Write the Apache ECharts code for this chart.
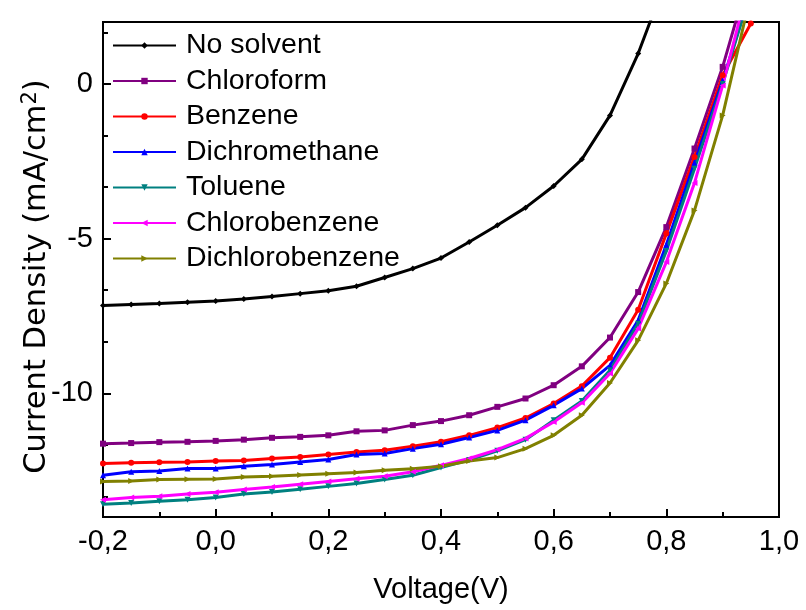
<!DOCTYPE html>
<html>
<head>
<meta charset="utf-8">
<script src="https://cdn.jsdelivr.net/npm/echarts@6/dist/echarts.min.js"></script>
<style>
  html, body { margin: 0; padding: 0; background: #fff; }
  #chart { width: 806px; height: 610px; }
</style>
</head>
<body>
<div id="chart"></div>
<script>
  const voltage = [-0.2, -0.15, -0.1, -0.05, 0, 0.05, 0.1, 0.15, 0.2, 0.25, 0.3, 0.35,
    0.4, 0.45, 0.5, 0.55, 0.6, 0.65, 0.7, 0.75, 0.8, 0.85, 0.9, 0.95];

  const noSolvent = [-7.16, -7.13, -7.10, -7.06, -7.02, -6.95, -6.87, -6.78, -6.69, -6.54, -6.26, -5.97,
    -5.63, -5.11, -4.57, -4.00, -3.30, -2.44, -1.02, 0.98, 3.4];
  const chloroform = [-11.63, -11.61, -11.58, -11.57, -11.54, -11.50, -11.44, -11.41, -11.36, -11.23, -11.20, -11.03,
    -10.90, -10.71, -10.44, -10.17, -9.74, -9.13, -8.20, -6.73, -4.63, -2.09, 0.55, 3.7];
  const benzene = [-12.27, -12.25, -12.23, -12.22, -12.19, -12.17, -12.11, -12.06, -11.98, -11.90, -11.84, -11.71,
    -11.57, -11.36, -11.11, -10.80, -10.33, -9.77, -8.85, -7.30, -4.84, -2.36, 0.28, 1.95];
  const dichromethane = [-12.65, -12.54, -12.51, -12.43, -12.43, -12.36, -12.30, -12.22, -12.14, -11.98, -11.95, -11.79,
    -11.65, -11.43, -11.20, -10.87, -10.39, -9.85, -9.10, -7.64, -5.20, -2.55, 0.10, 3.0];
  const toluene = [-13.59, -13.55, -13.49, -13.44, -13.37, -13.26, -13.19, -13.10, -13.01, -12.92, -12.79, -12.65,
    -12.40, -12.16, -11.86, -11.50, -10.87, -10.25, -9.26, -7.75, -5.40, -2.74, 0.00, 3.0];
  const chlorobenzene = [-13.44, -13.37, -13.33, -13.26, -13.20, -13.11, -13.03, -12.94, -12.85, -12.76, -12.68, -12.54,
    -12.33, -12.11, -11.82, -11.46, -10.93, -10.31, -9.36, -7.91, -5.76, -3.20, -0.05, 3.5];
  const dichlorobenzene = [-12.85, -12.84, -12.79, -12.78, -12.77, -12.71, -12.68, -12.64, -12.60, -12.56, -12.49, -12.44,
    -12.36, -12.19, -12.08, -11.79, -11.36, -10.71, -9.67, -8.29, -6.45, -4.09, -1.02, 2.9];

  const yMajorTicks = [-10, -5, 0];
  const yMinorTicks = [-13.333, -11.667, -8.333, -6.667, -3.333, -1.667, 1.667];

  const seriesDefs = [
    { name: "No solvent", data: noSolvent, color: "#000000", symbol: "diamond", rotate: 0 },
    { name: "Chloroform", data: chloroform, color: "#800080", symbol: "rect", rotate: 0 },
    { name: "Benzene", data: benzene, color: "#ff0000", symbol: "circle", rotate: 0 },
    { name: "Dichromethane", data: dichromethane, color: "#0000ff", symbol: "triangle", rotate: 0 },
    { name: "Toluene", data: toluene, color: "#008080", symbol: "triangle", rotate: 180 },
    { name: "Chlorobenzene", data: chlorobenzene, color: "#ff00ff", symbol: "triangle", rotate: 90 },
    { name: "Dichlorobenzene", data: dichlorobenzene, color: "#808000", symbol: "triangle", rotate: -90 },
  ];

  const font = "'Liberation Sans', Arial, sans-serif";
  const titleFont = "'DejaVu Sans', sans-serif";
  const chart = echarts.init(document.getElementById("chart"));

  const option = {
    backgroundColor: "#ffffff",
    animation: false,
    grid: {
      left: 103,
      right: 27,
      top: 22,
      bottom: 93,
      show: true,
      borderColor: "#000000",
      borderWidth: 2,
    },
    legend: {
      orient: "vertical",
      left: 112,
      top: 31,
      padding: 0,
      itemWidth: 63,
      itemHeight: 8,
      itemGap: 6.5,
      selectedMode: false,
      data: seriesDefs.map((s) => s.name),
      textStyle: {
        fontFamily: font,
        fontSize: 28.5,
        lineHeight: 26,
        color: "#000000",
        padding: [0, 0, 0, 5],
      },
    },
    xAxis: {
      type: "value",
      min: -0.2,
      max: 1.0,
      interval: 0.2,
      name: "Voltage(V)",
      nameLocation: "middle",
      nameGap: 58,
      nameMoveOverlap: false,
      nameTextStyle: { fontFamily: font, fontSize: 29, color: "#000000" },
      axisLine: { onZero: false, lineStyle: { color: "#000000", width: 2 } },
      axisTick: { inside: true, length: 8, lineStyle: { color: "#000000", width: 2 } },
      minorTick: { show: true, splitNumber: 2, length: 5, lineStyle: { color: "#000000", width: 2 } },
      splitLine: { show: false },
      axisLabel: {
        fontFamily: font,
        fontSize: 29,
        color: "#000000",
        margin: 10,
        formatter: function (value) {
          return value.toFixed(1).replace(".", ",");
        },
      },
    },
    yAxis: [
      {
        type: "value",
        min: -14,
        max: 2,
        name: "Current Density (mA/cm{sup|2})",
        nameLocation: "middle",
        nameGap: 48,
        nameMoveOverlap: false,
        nameTextStyle: {
          fontFamily: titleFont,
          fontSize: 30.5,
          color: "#000000",
          padding: [0, 14, 0, 0],
          rich: {
            sup: { fontFamily: titleFont, fontSize: 21, color: "#000000", padding: [0, 0, 14, 0] },
          },
        },
        axisLine: { onZero: false, lineStyle: { color: "#000000", width: 2 } },
        axisTick: {
          inside: true,
          length: 8,
          customValues: yMajorTicks,
          lineStyle: { color: "#000000", width: 2 },
        },
        axisLabel: {
          fontFamily: font,
          fontSize: 29,
          color: "#000000",
          margin: 10,
          customValues: yMajorTicks,
        },
        splitLine: { show: false },
      },
      {
        type: "value",
        min: -14,
        max: 2,
        position: "left",
        axisLine: { show: false, onZero: false },
        axisTick: {
          inside: true,
          length: 5,
          customValues: yMinorTicks,
          lineStyle: { color: "#000000", width: 2 },
        },
        axisLabel: { show: false },
        splitLine: { show: false },
      },
    ],
    series: seriesDefs.map((s) => ({
      name: s.name,
      type: "line",
      yAxisIndex: 0,
      data: s.data.map((v, i) => [voltage[i], v]),
      symbol: s.symbol,
      symbolSize: 6,
      symbolRotate: s.rotate,
      showAllSymbol: true,
      clip: true,
      itemStyle: { color: s.color },
      lineStyle: { color: s.color, width: 3 },
    })),
  };

  chart.setOption(option);
</script>
</body>
</html>
